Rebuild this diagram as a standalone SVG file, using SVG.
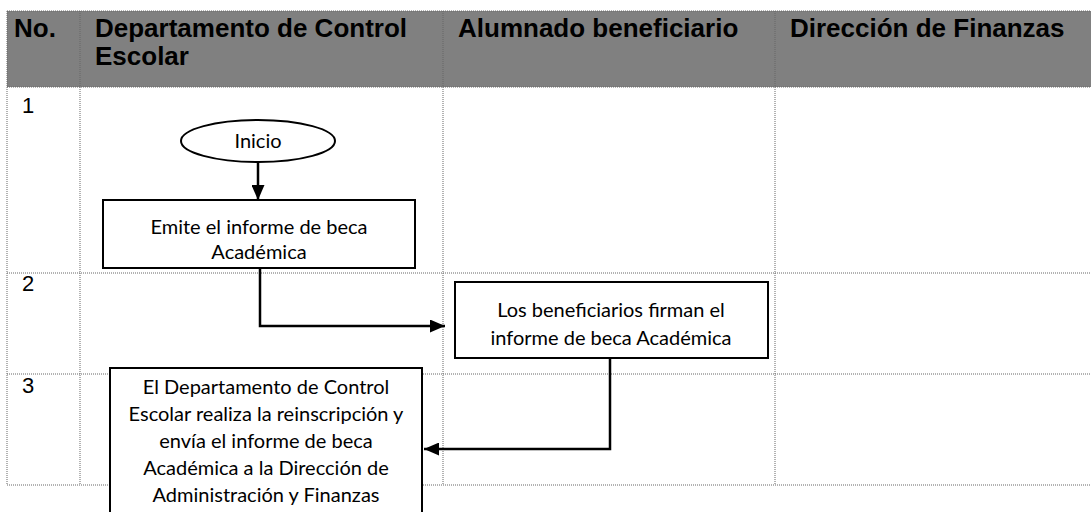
<svg xmlns="http://www.w3.org/2000/svg" width="1091" height="512" viewBox="0 0 1091 512">
<style>
.grid{stroke:#666;stroke-width:1;stroke-dasharray:1 1;fill:none}
.hdr{font-family:"Liberation Sans",Arial,sans-serif;font-weight:bold;font-size:26px;fill:#000}
.num{font-family:"Liberation Sans",Arial,sans-serif;font-size:22px;fill:#000}
.box{fill:#fff;stroke:#000;stroke-width:2}
.t{font-family:Lato,"Open Sans",sans-serif;font-size:20px;fill:#000;text-anchor:middle}
.c{fill:none;stroke:#000;stroke-width:2.5}
</style>
<defs>
<marker id="ah" viewBox="0 0 15 13" refX="15" refY="6.5" markerWidth="15" markerHeight="13" markerUnits="userSpaceOnUse" orient="auto"><path d="M0,0L15,6.5L0,13z" fill="#000"/></marker>
</defs>
<rect width="1091" height="512" fill="#fff"/>
<g id="table">
<rect x="7" y="11" width="1084" height="76" fill="#808080"/>
<path class="grid" d="M7,11H1091M7,87H1091M7,273H1091M7,374H1091M7,485H1091M7,11V485M80,11V485M443,11V485M775,11V485"/>
<text class="hdr" x="14" y="37">No.</text>
<text class="hdr" x="95" y="37">Departamento de Control</text>
<text class="hdr" x="95" y="65">Escolar</text>
<text class="hdr" x="458" y="37">Alumnado beneficiario</text>
<text class="hdr" x="790" y="37">Dirección de Finanzas</text>
<text class="num" x="22" y="113">1</text>
<text class="num" x="22" y="291">2</text>
<text class="num" x="22" y="393">3</text>
</g>
<g id="connectors">
<path class="c" d="M258,162V200" marker-end="url(#ah)"/>
<path class="c" d="M260,268V326H445" marker-end="url(#ah)"/>
<path class="c" d="M610,358V449H424" marker-end="url(#ah)"/>
</g>
<g id="n-inicio">
<ellipse class="box" cx="258" cy="141" rx="77" ry="21"/>
<text class="t" x="258" y="148">Inicio</text>
</g>
<g id="n-emite">
<rect class="box" x="103" y="200" width="312" height="68"/>
<text class="t" x="259" y="234">Emite el informe de beca</text>
<text class="t" x="259" y="259">Académica</text>
</g>
<g id="n-firman">
<rect class="box" x="455" y="282" width="313" height="76"/>
<text class="t" x="611" y="317">Los beneficiarios firman el</text>
<text class="t" x="611" y="345">informe de beca Académica</text>
</g>
<g id="n-reinscripcion">
<rect class="box" x="110" y="368" width="312" height="150"/>
<text class="t" x="266" y="394">El Departamento de Control</text>
<text class="t" x="266" y="421">Escolar realiza la reinscripción y</text>
<text class="t" x="266" y="448">envía el informe de beca</text>
<text class="t" x="266" y="475">Académica a la Dirección de</text>
<text class="t" x="266" y="502">Administración y Finanzas</text>
</g>
</svg>
